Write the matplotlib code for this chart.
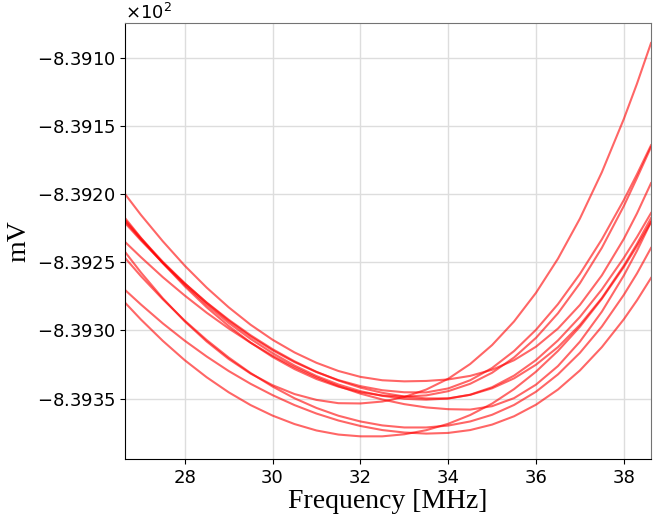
import matplotlib
matplotlib.use("Agg")
import matplotlib.pyplot as plt
from matplotlib.ticker import MultipleLocator

# frequency samples [MHz]
freq = [26.64, 27, 27.5, 28, 28.5, 29, 29.5, 30, 30.5, 31, 31.5, 32, 32.5,
        33, 33.5, 34, 34.5, 35, 35.5, 36, 36.5, 37, 37.5, 38, 38.3, 38.62]

# residual traces [mV]
curve_a = [-839.2000, -839.2152, -839.2346, -839.2525, -839.2686, -839.2830, -839.2958,
           -839.3068, -839.3161, -839.3237, -839.3297, -839.3340, -839.3365, -839.3373,
           -839.3370, -839.3359, -839.3333, -839.3288, -839.3218, -839.3119, -839.2986,
           -839.2813, -839.2596, -839.2329, -839.2142, -839.1920]
curve_b = [-839.2190, -839.2323, -839.2496, -839.2654, -839.2798, -839.2928, -839.3044,
           -839.3145, -839.3232, -839.3305, -839.3364, -839.3408, -839.3438, -839.3453,
           -839.3454, -839.3425, -839.3365, -839.3275, -839.3151, -839.2995, -839.2807,
           -839.2586, -839.2332, -839.2044, -839.1855, -839.1642]
curve_c = [-839.2176, -839.2320, -839.2506, -839.2676, -839.2830, -839.2967, -839.3089,
           -839.3194, -839.3283, -839.3356, -839.3412, -839.3453, -839.3477, -839.3485,
           -839.3476, -839.3445, -839.3391, -839.3310, -839.3198, -839.3054, -839.2874,
           -839.2654, -839.2394, -839.2088, -839.1882, -839.1656]
curve_d = [-839.2424, -839.2574, -839.2764, -839.2933, -839.3081, -839.3209, -839.3316,
           -839.3401, -839.3466, -839.3509, -839.3533, -839.3535, -839.3521, -839.3488,
           -839.3433, -839.3354, -839.3246, -839.3107, -839.2934, -839.2724, -839.2474,
           -839.2180, -839.1840, -839.1450, -839.1191, -839.0893]
curve_e = [-839.2212, -839.2339, -839.2503, -839.2655, -839.2795, -839.2921, -839.3035,
           -839.3137, -839.3226, -839.3303, -839.3367, -839.3419, -839.3457, -839.3484,
           -839.3498, -839.3498, -839.3471, -839.3416, -839.3331, -839.3217, -839.3073,
           -839.2901, -839.2699, -839.2468, -839.2315, -839.2139]
curve_f = [-839.2199, -839.2332, -839.2506, -839.2666, -839.2812, -839.2944, -839.3062,
           -839.3166, -839.3257, -839.3334, -839.3396, -839.3445, -839.3479, -839.3501,
           -839.3507, -839.3499, -839.3472, -839.3424, -839.3351, -839.3251, -839.3122,
           -839.2959, -839.2762, -839.2525, -839.2365, -839.2176]
curve_g = [-839.2351, -839.2462, -839.2609, -839.2744, -839.2870, -839.2985, -839.3090,
           -839.3185, -839.3270, -839.3344, -839.3408, -839.3463, -839.3506, -839.3540,
           -839.3564, -839.3577, -839.3580, -839.3555, -839.3496, -839.3397, -839.3261,
           -839.3082, -839.2862, -839.2597, -839.2416, -839.2205]
curve_h = [-839.2468, -839.2601, -839.2771, -839.2928, -839.3070, -839.3198, -839.3312,
           -839.3411, -839.3497, -839.3568, -839.3625, -839.3667, -839.3696, -839.3711,
           -839.3711, -839.3697, -839.3667, -839.3618, -839.3546, -839.3449, -839.3322,
           -839.3164, -839.2971, -839.2739, -839.2582, -839.2395]
curve_i = [-839.2703, -839.2809, -839.2948, -839.3075, -839.3191, -839.3297, -839.3391,
           -839.3474, -839.3547, -839.3609, -839.3660, -839.3700, -839.3730, -839.3748,
           -839.3756, -839.3751, -839.3730, -839.3690, -839.3629, -839.3544, -839.3433,
           -839.3293, -839.3122, -839.2918, -839.2779, -839.2615]
curve_j = [-839.2796, -839.2919, -839.3076, -839.3218, -839.3343, -839.3453, -839.3547,
           -839.3624, -839.3686, -839.3733, -839.3763, -839.3776, -839.3776, -839.3761,
           -839.3731, -839.3684, -839.3620, -839.3536, -839.3430, -839.3302, -839.3150,
           -839.2973, -839.2768, -839.2535, -839.2381, -839.2205]

curves = [curve_a, curve_b, curve_c, curve_d, curve_e,
          curve_f, curve_g, curve_h, curve_i, curve_j]

fig = plt.figure(figsize=(6.65, 5.16), dpi=100)
ax = fig.add_axes([0.188, 0.1105, 0.791, 0.845])

for c in curves:
    ax.plot(freq, c, color='red', alpha=0.6, lw=1.5)

ax.set_xlim(26.64, 38.62)
ax.set_ylim(-839.3942, -839.0746)
ax.xaxis.set_major_locator(MultipleLocator(2))
ax.yaxis.set_major_locator(MultipleLocator(0.05))
ax.ticklabel_format(axis='y', style='sci', scilimits=(0, 0), useOffset=False, useMathText=True)
ax.grid(True, color='#dddddd', lw=1)
ax.set_axisbelow(True)
ax.tick_params(labelsize=13)
ax.yaxis.get_offset_text().set_fontsize(13)
for s in ['top', 'right']:
    ax.spines[s].set_color('0.45')

ax.set_xlabel('Frequency [MHz]', family='Liberation Serif', fontsize=20, labelpad=2)
ax.set_ylabel('mV', family='Liberation Serif', fontsize=20, labelpad=4)

fig.savefig('out.png', dpi=100)
